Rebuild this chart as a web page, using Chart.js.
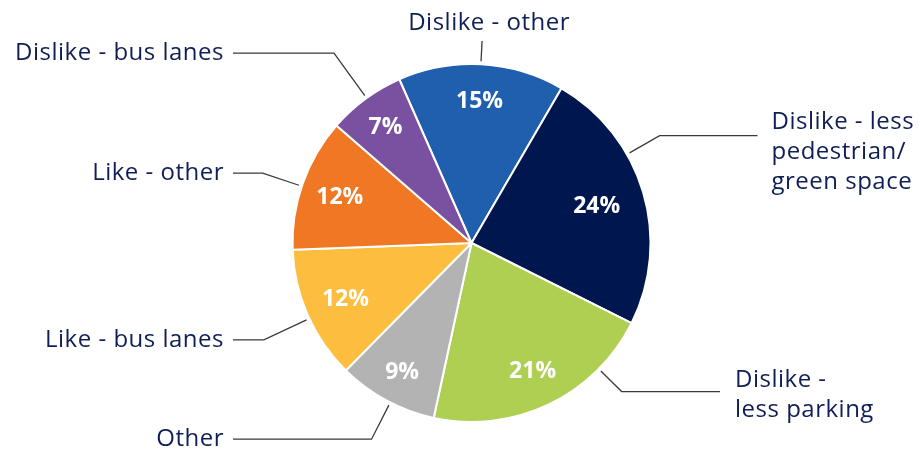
<!DOCTYPE html>
<html><head><meta charset="utf-8">
<script src="https://cdn.jsdelivr.net/npm/chart.js@4/dist/chart.umd.min.js"></script>
<style>html,body{margin:0;padding:0;background:#fff;}canvas{display:block}</style>
</head><body>
<canvas id="c" width="921" height="452"></canvas>
<script>
// ---- data ----
const categories = ["Dislike - other", "Dislike - less pedestrian/ green space", "Dislike - less parking", "Other", "Like - bus lanes", "Like - other", "Dislike - bus lanes"];
const labelLines = [["Dislike - other"], ["Dislike - less", "pedestrian/", "green space"], ["Dislike -", "less parking"], ["Other"], ["Like - bus lanes"], ["Like - other"], ["Dislike - bus lanes"]];
const shares = [15, 24, 21, 9, 12, 12, 7];
const colours = ["#1F5FAD", "#00164E", "#AECF52", "#B3B3B3", "#FDBE3F", "#F07723", "#7A51A0"];

// ---- layout of callouts (angles in degrees clockwise from top, distances as fraction of radius) ----
const leaderLayout = [
  {angle: 3,     dist: 1.13, side: "top",   textDx: 7,  textDy: -11, pctK: 0.80},
  {angle: 60.3,  dist: 1.21, side: "right", endDx: 286,   textGap: 14, firstDy: -6.5, pctK: 0.73},
  {angle: 134.7, dist: 1.18, side: "right", endDx: 248.5, textGap: 15, firstDy: -5, pctK: 0.79},
  {angle: 207,   dist: 1.23, side: "left",  endDx: -238.5, textGap: 9, firstDy: 7, pctK: 0.815},
  {angle: 245,   dist: 1.28, side: "left",  endDx: -238.5, textGap: 9, firstDy: 7, pctK: 0.77},
  {angle: 288.5, dist: 1.23, side: "left",  endDx: -238.5, textGap: 9, firstDy: 7, pctK: 0.78},
  {angle: 324.1, dist: 1.31, side: "left",  endDx: -238.5, textGap: 9, firstDy: 7, pctK: 0.81}
];
const TEXT_COLOR = "#0F1F55";
const LINE_COLOR = "#3A3A3A";
const FONT = '"Open Sans", "Noto Sans", sans-serif';
const LINE_H = 30;

const calloutPlugin = {
  id: "callouts",
  afterDatasetsDraw(chart) {
    const ctx = chart.ctx;
    const meta = chart.getDatasetMeta(0);
    const a0 = meta.data[0];
    const cx = a0.x, cy = a0.y, r = a0.outerRadius;
    ctx.save();
    // percentage labels
    ctx.fillStyle = "#FFFFFF";
    ctx.font = "bold 23px " + FONT;
    ctx.textAlign = "center";
    ctx.textBaseline = "middle";
    meta.data.forEach((arc, i) => {
      const mid = (arc.startAngle + arc.endAngle) / 2;
      const k = leaderLayout[i].pctK;
      ctx.fillText(shares[i] + "%", cx + Math.cos(mid) * r * k, cy + Math.sin(mid) * r * k + 1);
    });
    // leader lines + category labels
    ctx.strokeStyle = LINE_COLOR;
    ctx.lineWidth = 1.3;
    ctx.fillStyle = TEXT_COLOR;
    ctx.font = "24px " + FONT;
    if ("letterSpacing" in ctx) ctx.letterSpacing = "0.5px";
    ctx.textBaseline = "alphabetic";
    leaderLayout.forEach((L, i) => {
      const th = (L.angle - 90) * Math.PI / 180;
      const sx = cx + Math.cos(th) * (r + 3), sy = cy + Math.sin(th) * (r + 3);
      const ex = cx + Math.cos(th) * r * L.dist, ey = cy + Math.sin(th) * r * L.dist;
      ctx.beginPath();
      ctx.moveTo(sx, sy);
      ctx.lineTo(ex, ey);
      if (L.side === "top") {
        ctx.stroke();
        ctx.textAlign = "center";
        ctx.fillText(labelLines[i][0], ex + L.textDx, ey + L.textDy);
        return;
      }
      const hx = cx + L.endDx;
      ctx.lineTo(hx, ey);
      ctx.stroke();
      ctx.textAlign = L.side === "left" ? "right" : "left";
      const tx = L.side === "left" ? hx - L.textGap : hx + L.textGap;
      labelLines[i].forEach((line, j) => {
        ctx.fillText(line, tx, ey + L.firstDy + j * LINE_H);
      });
    });
    ctx.restore();
  }
};

new Chart(document.getElementById("c"), {
  type: "pie",
  data: {
    labels: categories,
    datasets: [{
      data: shares,
      backgroundColor: colours,
      borderColor: "#FFFFFF",
      borderWidth: 2
    }]
  },
  options: {
    responsive: false,
    animation: false,
    devicePixelRatio: 1,
    rotation: -23.8,
    radius: 179,
    layout: {padding: {left: 22, right: 0, top: 34, bottom: 0}},
    plugins: {legend: {display: false}, tooltip: {enabled: false}}
  },
  plugins: [calloutPlugin]
});
</script>
</body></html>
